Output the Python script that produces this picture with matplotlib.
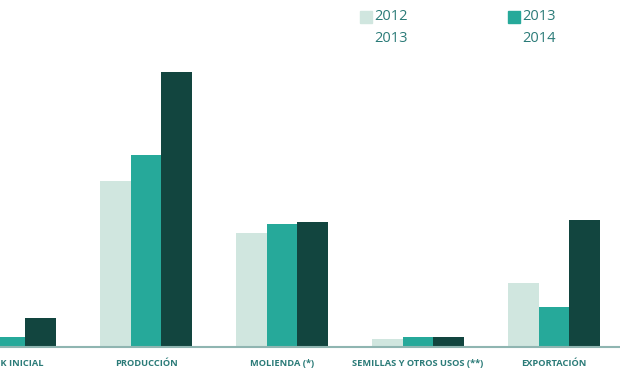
import matplotlib.pyplot as plt
from matplotlib.patches import Rectangle
import numpy as np

categories = ["STOCK INICIAL", "PRODUCCIÓN", "MOLIENDA (*)",
              "SEMILLAS Y OTROS USOS (**)", "EXPORTACIÓN"]
campaigns = ["2012\n2013", "2013\n2014", "2014\n2015"]
v_2012_13 = [0.4, 8.3, 5.7, 0.4, 3.2]
v_2013_14 = [0.5, 9.6, 6.15, 0.5, 2.0]
v_2014_15 = [1.45, 13.75, 6.25, 0.5, 6.35]

colors = ["#d0e6df", "#26a99a", "#12453f"]
text_color = "#2b7b78"

plt.rcParams['font.family'] = ['Open Sans', 'DejaVu Sans']

fig = plt.figure(figsize=(6.2, 3.75), dpi=100)
ax = fig.add_axes([0, 28 / 375, 1, 347 / 375])

x = np.arange(len(categories))
w = 0.224
for i, vals in enumerate([v_2012_13, v_2013_14, v_2014_15]):
    ax.bar(x + (i - 1) * w, vals, w, color=colors[i], linewidth=0)

ax.set_xlim(-10 / 136, 610 / 136)
ax.set_ylim(0, 17.35)
ax.set_xticks(x)
ax.set_xticklabels(categories, fontsize=6.7, fontweight='bold', color=text_color)
ax.tick_params(axis='x', length=0, pad=9)
ax.set_yticks([])
for s in ['top', 'left', 'right']:
    ax.spines[s].set_visible(False)
ax.spines['bottom'].set_color("#8fb5b1")
ax.spines['bottom'].set_linewidth(1.5)

# legend (only the first two campaigns are visible in the original crop)
for i, lx in enumerate([360, 508]):
    fig.patches.append(Rectangle((lx / 620, 1 - 23 / 375), 12 / 620, 12 / 375,
                                 transform=fig.transFigure, color=colors[i]))
    fig.text((lx + 14) / 620, 1 - 9 / 375, campaigns[i], fontsize=10.5,
             color=text_color, va='top', ha='left', linespacing=1.6)

fig.savefig("out.png", dpi=100)
